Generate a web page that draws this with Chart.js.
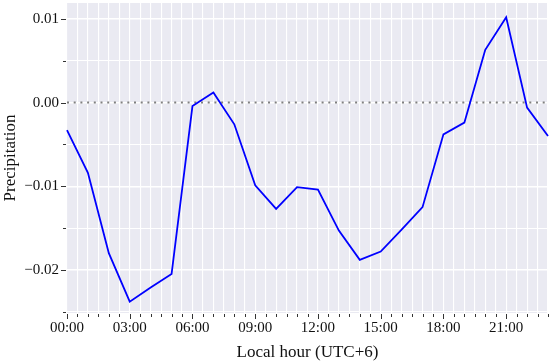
<!DOCTYPE html>
<html>
<head>
<meta charset="utf-8">
<script src="https://cdn.jsdelivr.net/npm/chart.js@4/dist/chart.umd.min.js"></script>
<style>
html,body{margin:0;padding:0;background:#fff}
#wrap{width:550px;height:363px}
</style>
</head>
<body>
<div id="wrap"><canvas id="c"></canvas></div>
<script>
// hourly mean precipitation anomaly, local time
const hours = [0,1,2,3,4,5,6,7,8,9,10,11,12,13,14,15,16,17,18,19,20,21,22,23]
const precip = [-0.0033,-0.0084,-0.0180,-0.0238,-0.0221,-0.0205,-0.0004,0.0012,-0.0026,-0.0099,
 -0.0127,-0.0101,-0.0104,-0.0153,-0.0188,-0.0178,-0.0152,-0.0125,-0.0038,-0.0024,
 0.0063,0.0102,-0.0006,-0.0040]
const yTickValues = [-0.025,-0.02,-0.015,-0.01,-0.005,0,0.005,0.01]
const refLevel = 0

const serif = "'Liberation Serif','DejaVu Serif',serif"

function isMajorY(v){ return Math.abs(v/0.01 - Math.round(v/0.01)) < 1e-6 }
function isMajorX(v){ return v % 3 === 0 }

function fmtY(v){
 const s = Math.abs(v).toFixed(2)
 return v < -1e-9 ? "\u2212" + s : s
}
function fmtX(v){
 return (v < 10 ? "0" : "") + v + ":00"
}

const decor = {
 id:"decor",
 beforeDraw(chart){
  const {ctx, chartArea:a} = chart
  ctx.save()
  ctx.fillStyle = "#EAEAF2"
  ctx.fillRect(a.left, a.top, a.right-a.left, a.bottom-a.top)
  ctx.restore()
 },
 beforeDatasetsDraw(chart){
  const {ctx, chartArea:a, scales} = chart
  const y = scales.y.getPixelForValue(refLevel)
  ctx.save()
  ctx.strokeStyle = "#7f7f7f"
  ctx.lineWidth = 2
  ctx.setLineDash([2,4.7])
  ctx.beginPath()
  ctx.moveTo(a.left, y)
  ctx.lineTo(a.right, y)
  ctx.stroke()
  ctx.restore()
 },
 afterDraw(chart){
  const {ctx, chartArea:a, scales} = chart
  ctx.save()
  ctx.strokeStyle = "#333"
  ctx.lineWidth = 1
  scales.x.ticks.forEach(t=>{
   const px = Math.round(scales.x.getPixelForValue(t.value)) + 0.5
   const len = isMajorX(t.value) ? 5 : 3
   ctx.beginPath()
   ctx.moveTo(px, a.bottom + 1)
   ctx.lineTo(px, a.bottom + 1 + len)
   ctx.stroke()
  })
  scales.y.ticks.forEach(t=>{
   const py = Math.round(scales.y.getPixelForValue(t.value)) + 0.5
   const len = isMajorY(t.value) ? 5 : 3
   ctx.beginPath()
   ctx.moveTo(a.left - 1, py)
   ctx.lineTo(a.left - 1 - len, py)
   ctx.stroke()
  })
  ctx.restore()
 }
}

new Chart(document.getElementById("c"), {
 type:"line",
 data:{
  datasets:[{
   data: hours.map((h,i)=>({x:h, y:precip[i]})),
   borderColor:"#0000FF",
   borderWidth:1.8,
   pointRadius:0,
   tension:0,
   clip:false
  }]
 },
 options:{
  responsive:true,
  maintainAspectRatio:false,
  animation:false,
  layout:{padding:{top:3, right:2, left:0, bottom:0}},
  plugins:{legend:{display:false}, tooltip:{enabled:false}},
  scales:{
   x:{
    type:"linear",
    min:0, max:23,
    border:{display:false},
    grid:{color:"#ffffff", lineWidth:1.1, drawTicks:true, tickLength:5, tickColor:"rgba(0,0,0,0)"},
    ticks:{
     stepSize:0.5, autoSkip:false, maxRotation:0, padding:1,
     color:"#111", font:{family:serif, size:15},
     callback:v => isMajorX(v) ? fmtX(v) : ""
    },
    title:{display:true, text:"Local hour (UTC+6)", color:"#111", font:{family:serif, size:17}, padding:{top:2, bottom:0}},
    afterFit:s => { s.height = 50; s.paddingLeft = 0; s.paddingRight = 0 }
   },
   y:{
    min:-0.02515, max:0.0119,
    border:{display:false},
    grid:{color:"#ffffff", lineWidth:c => (c.tick && isMajorY(c.tick.value)) ? 1.4 : 1.1,
     drawTicks:true, tickLength:5, tickColor:"rgba(0,0,0,0)"},
    afterBuildTicks:s => { s.ticks = yTickValues.map(v=>({value:v})) },
    ticks:{
     padding:3, color:"#111", font:{family:serif, size:15},
     callback:v => isMajorY(v) ? fmtY(v) : ""
    },
    title:{display:true, text:"Precipitation", color:"#111", font:{family:serif, size:17}, padding:{top:0, bottom:2}},
    afterFit:s => { s.width = 67; s.paddingTop = 0; s.paddingBottom = 0 }
   }
  }
 },
 plugins:[decor]
})
</script>
</body>
</html>
